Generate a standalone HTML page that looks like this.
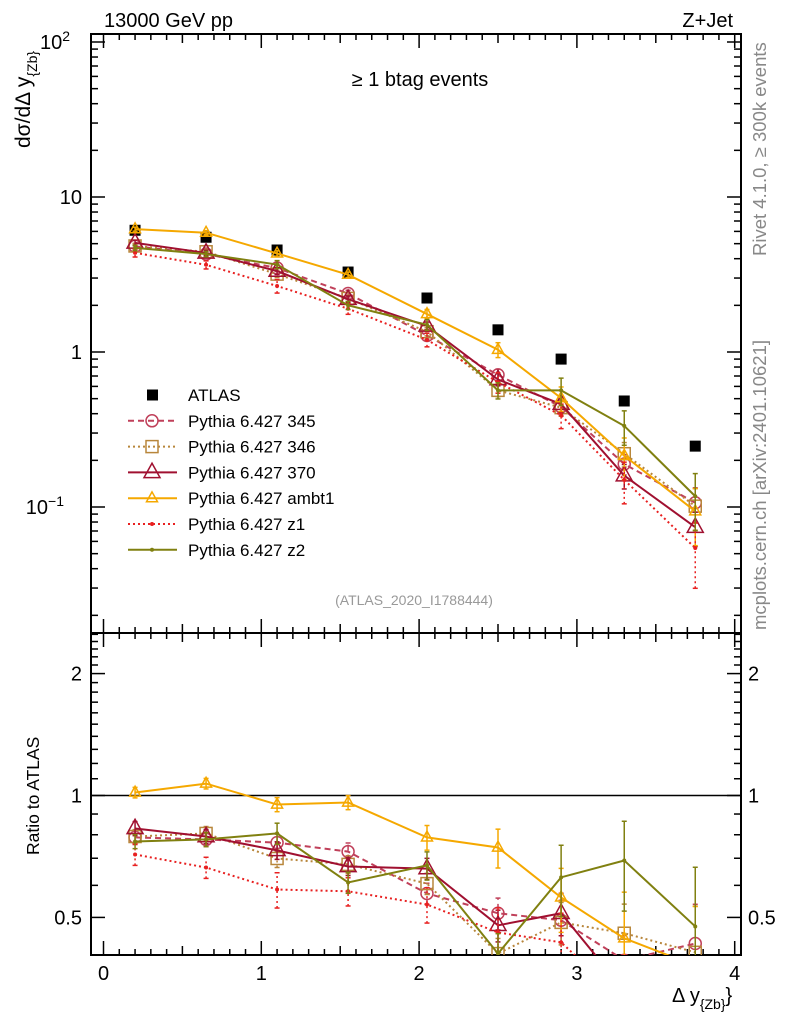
<!DOCTYPE html>
<html><head><meta charset="utf-8">
<style>
html,body{margin:0;padding:0;background:#fff;overflow:hidden;width:786px;height:1024px;}
svg{display:block;font-family:"Liberation Sans",Arial,sans-serif;}
</style></head>
<body>
<svg id="chart" width="786" height="1024" viewBox="0 0 786 1024" xmlns="http://www.w3.org/2000/svg">
<defs>
<clipPath id="clipMain"><rect x="91" y="34" width="650" height="599"/></clipPath>
<clipPath id="clipRatio"><rect x="91" y="633" width="650" height="322"/></clipPath>
</defs>
<g id="axes"></g>
<g id="mainSeries" clip-path="url(#clipMain)"></g>
<g id="ratioSeries" clip-path="url(#clipRatio)"></g>
<g id="legend"></g>
<text x="104" y="27" font-size="20">13000 GeV pp</text>
<text x="733" y="27" font-size="20" text-anchor="end">Z+Jet</text>
<text x="420" y="86" font-size="20" text-anchor="middle">≥ 1 btag events</text>
<text x="414" y="605" font-size="14" fill="#999" text-anchor="middle">(ATLAS_2020_I1788444)</text>
<text transform="translate(766,256) rotate(-90)" font-size="18.5" fill="#888">Rivet 4.1.0, ≥ 300k events</text>
<text transform="translate(766,630) rotate(-90)" font-size="18.5" fill="#888">mcplots.cern.ch [arXiv:2401.10621]</text>
<text transform="translate(30,148) rotate(-90)" font-size="21">dσ/dΔ y<tspan font-size="14" dy="7">{Zb}</tspan></text>
<text transform="translate(39,855) rotate(-90)" font-size="17.5">Ratio to ATLAS</text>
<text x="672" y="1002" font-size="20">Δ y<tspan font-size="14" dy="7">{Zb}</tspan><tspan dy="-7">}</tspan></text>
</svg>
<script>
const xVals = [0.2, 0.65, 1.1, 1.55, 2.05, 2.5, 2.9, 3.3, 3.75];
const atlas = [6.1, 5.5, 4.55, 3.28, 2.23, 1.39, 0.90, 0.483, 0.247];
const atlasErr = [0.03, 0.03, 0.03, 0.03, 0.03, 0.04, 0.05, 0.06, 0.08];
const r345 = [0.788, 0.779, 0.765, 0.727, 0.573, 0.512, 0.492, 0.392, 0.431];
const e345 = [0.04, 0.04, 0.05, 0.05, 0.06, 0.09, 0.12, 0.15, 0.25];
const r346 = [0.792, 0.806, 0.699, 0.676, 0.606, 0.407, 0.486, 0.457, 0.41];
const e346 = [0.04, 0.04, 0.05, 0.05, 0.06, 0.09, 0.12, 0.18, 0.3];
const r370 = [0.829, 0.792, 0.732, 0.668, 0.66, 0.478, 0.512, 0.33, 0.30];
const e370 = [0.04, 0.04, 0.05, 0.05, 0.06, 0.09, 0.12, 0.18, 0.25];
const rAmbt1 = [1.017, 1.07, 0.950, 0.961, 0.788, 0.744, 0.560, 0.444, 0.38];
const eAmbt1 = [0.03, 0.03, 0.04, 0.04, 0.07, 0.11, 0.18, 0.3, 0.4];
const rZ1 = [0.715, 0.664, 0.586, 0.580, 0.538, 0.459, 0.434, 0.31, 0.22];
const eZ1 = [0.06, 0.06, 0.1, 0.08, 0.1, 0.15, 0.18, 0.3, 0.45];
const rZ2 = [0.770, 0.779, 0.806, 0.610, 0.672, 0.407, 0.628, 0.691, 0.475];
const eZ2 = [0.04, 0.04, 0.06, 0.06, 0.08, 0.12, 0.2, 0.25, 0.4];
const xTicks = [0, 1, 2, 3, 4];
const ratioTicks = [0.5, 1, 2];
const ratioTickLabels = ["0.5", "1", "2"];

const NS = "http://www.w3.org/2000/svg";
const L = 91, R = 741, T = 34, MB = 633, RB = 955;
function X(v){ return 103.5 + v * 157.8; }
function Y(v){ return 352 - Math.log10(v) * 155; }
function YR(v){ return 795.5 - Math.log10(v) * 405; }
function mk(tag, attrs, parent){ const e = document.createElementNS(NS, tag); for (const k in attrs) e.setAttribute(k, attrs[k]); parent.appendChild(e); return e; }

const axes = document.getElementById('axes');
const mainG = document.getElementById('mainSeries');
const ratioG = document.getElementById('ratioSeries');
const legG = document.getElementById('legend');

let f1 = mk('rect', {x:L, y:T, width:R-L, height:MB-T, fill:'none', stroke:'#000', 'stroke-width':2}, axes);


let f2 = mk('rect', {x:L, y:MB, width:R-L, height:RB-MB, fill:'none', stroke:'#000', 'stroke-width':2}, axes);



for (let i = 0; i <= 40; i++) {
  const v = i / 10; const x = X(v); if (x < L || x > R) continue;
  const len = (i % 10 === 0) ? 14 : (i % 5 === 0 ? 9 : 6);
  [T, MB].forEach(y0 => { mk('line', {x1:x, x2:x, y1:y0, y2:y0+len, stroke:'#000', 'stroke-width':1.5}, axes); });
  [MB, RB].forEach(y0 => { mk('line', {x1:x, x2:x, y1:y0, y2:y0-len, stroke:'#000', 'stroke-width':1.5}, axes); });
}
xTicks.forEach(v => {
  const t = mk('text', {x:X(v), y:980, 'font-size':20, 'text-anchor':'middle'}, axes);
  t.textContent = String(v);
  
  
});

for (let d = -2; d <= 2; d++) {
  for (let m = 1; m <= 9; m++) {
    const v = m * Math.pow(10, d); const y = Y(v);
    if (y < T || y > MB) continue;
    const len = m === 1 ? 14 : 7;
    mk('line', {x1:L, x2:L+len, y1:y, y2:y, stroke:'#000', 'stroke-width':1.5}, axes);
    mk('line', {x1:R, x2:R-len, y1:y, y2:y, stroke:'#000', 'stroke-width':1.5}, axes);
  }
}
[[100,'10','2'],[10,'10',''],[1,'1',''],[0.1,'10','−1']].forEach(a => {
  const t = mk('text', {x:82, y:Y(a[0])+7, 'font-size':20, 'text-anchor':'end'}, axes);
  t.textContent = a[1];
  if (a[2]) { t.setAttribute('x', a[2].length > 1 ? 64 : 70); t.setAttribute('text-anchor','end');
    const s = document.createElementNS(NS,'tspan'); s.setAttribute('font-size','14'); s.setAttribute('dy','-8'); s.textContent = a[2]; t.appendChild(s); }
  
  
});

for (let i = 4; i <= 25; i++) {
  const v = i / 10; const y = YR(v);
  if (y < MB || y > RB) continue;
  const len = (i === 5 || i === 10 || i === 20) ? 14 : 7;
  mk('line', {x1:L, x2:L+len, y1:y, y2:y, stroke:'#000', 'stroke-width':1.5}, axes);
  mk('line', {x1:R, x2:R-len, y1:y, y2:y, stroke:'#000', 'stroke-width':1.5}, axes);
}
ratioTicks.forEach((v, i) => {
  const t = mk('text', {x:82, y:YR(v)+7, 'font-size':20, 'text-anchor':'end'}, axes);
  t.textContent = ratioTickLabels[i];
  
  
  const t2 = mk('text', {x:748, y:YR(v)+7, 'font-size':20}, axes);
  t2.textContent = ratioTickLabels[i];
  
  
});
mk('line', {x1:L, x2:R, y1:YR(1), y2:YR(1), stroke:'#000', 'stroke-width':1.5}, axes);

function marker(g, type, x, y, col, size) {
  if (type === 'circle') mk('circle', {cx:x, cy:y, r:size, fill:'none', stroke:col, 'stroke-width':1.5}, g);
  else if (type === 'square') mk('rect', {x:x-size, y:y-size, width:2*size, height:2*size, fill:'none', stroke:col, 'stroke-width':1.5}, g);
  else if (type === 'tri') mk('polygon', {points:`${x},${y-size*1.15} ${x-size},${y+size*0.65} ${x+size},${y+size*0.65}`, fill:'none', stroke:col, 'stroke-width':1.5}, g);
  else if (type === 'dot') mk('circle', {cx:x, cy:y, r:size, fill:col}, g);
}

const series = [
  {name:'Pythia 6.427 345', key:'series-345', r:r345, e:e345, col:'#c0405a', dash:'6,4', mk:'circle', sz:6},
  {name:'Pythia 6.427 346', key:'series-346', r:r346, e:e346, col:'#b8863b', dash:'2,3', mk:'square', sz:6},
  {name:'Pythia 6.427 370', key:'series-370', r:r370, e:e370, col:'#a01030', dash:'', mk:'tri', sz:8},
  {name:'Pythia 6.427 ambt1', key:'series-ambt1', r:rAmbt1, e:eAmbt1, col:'#f5a800', dash:'', mk:'tri', sz:5.5},
  {name:'Pythia 6.427 z1', key:'series-z1', r:rZ1, e:eZ1, col:'#e82020', dash:'2,3', mk:'dot', sz:2},
  {name:'Pythia 6.427 z2', key:'series-z2', r:rZ2, e:eZ2, col:'#808010', dash:'', mk:'dot', sz:2}
];

function drawSeries(g, s, yf, vals, prefix) {
  const sg = mk('g', {}, g);
  
  
  const pts = vals.map((v, i) => X(xVals[i]) + ',' + yf(v)).join(' ');
  const pl = mk('polyline', {points:pts, fill:'none', stroke:s.col, 'stroke-width':2}, sg);
  if (s.dash) pl.setAttribute('stroke-dasharray', s.dash);
  vals.forEach((v, i) => {
    const x = X(xVals[i]);
    const lo = yf(v * (1 - s.e[i])), hi = yf(v * (1 + s.e[i]));
    const eb = mk('line', {x1:x, x2:x, y1:lo, y2:hi, stroke:s.col, 'stroke-width':1.5}, sg);
    if (s.dash) eb.setAttribute('stroke-dasharray', s.dash);
    mk('line', {x1:x-2.5, x2:x+2.5, y1:lo, y2:lo, stroke:s.col, 'stroke-width':1.5}, sg);
    mk('line', {x1:x-2.5, x2:x+2.5, y1:hi, y2:hi, stroke:s.col, 'stroke-width':1.5}, sg);
    marker(sg, s.mk, x, yf(v), s.col, s.sz);
  });
}

const ag = mk('g', {}, mainG);


atlas.forEach((v, i) => {
  const r = mk('rect', {x:X(xVals[i])-5.5, y:Y(v)-5.5, width:11, height:11, fill:'#000'}, ag);
  
  
});

series.forEach(s => {
  drawSeries(mainG, s, Y, s.r.map((r, i) => r * atlas[i]), 'main-');
  drawSeries(ratioG, s, YR, s.r, 'ratio-');
});

const ly0 = 395, ldy = 25.8;
const e0 = mk('g', {}, legG);


mk('rect', {x:147, y:ly0-5.5, width:11, height:11, fill:'#000'}, e0);
const t0 = mk('text', {x:188, y:ly0+6, 'font-size':17}, e0); t0.textContent = 'ATLAS';
series.forEach((s, k) => {
  const y = ly0 + ldy * (k + 1);
  const eg = mk('g', {}, legG);
  
  
  const ln = mk('line', {x1:128, x2:177, y1:y, y2:y, stroke:s.col, 'stroke-width':2}, eg);
  if (s.dash) ln.setAttribute('stroke-dasharray', s.dash);
  marker(eg, s.mk, 152, y, s.col, s.sz);
  const t = mk('text', {x:188, y:y+6, 'font-size':17}, eg); t.textContent = s.name;
});
</script>
</body></html>
